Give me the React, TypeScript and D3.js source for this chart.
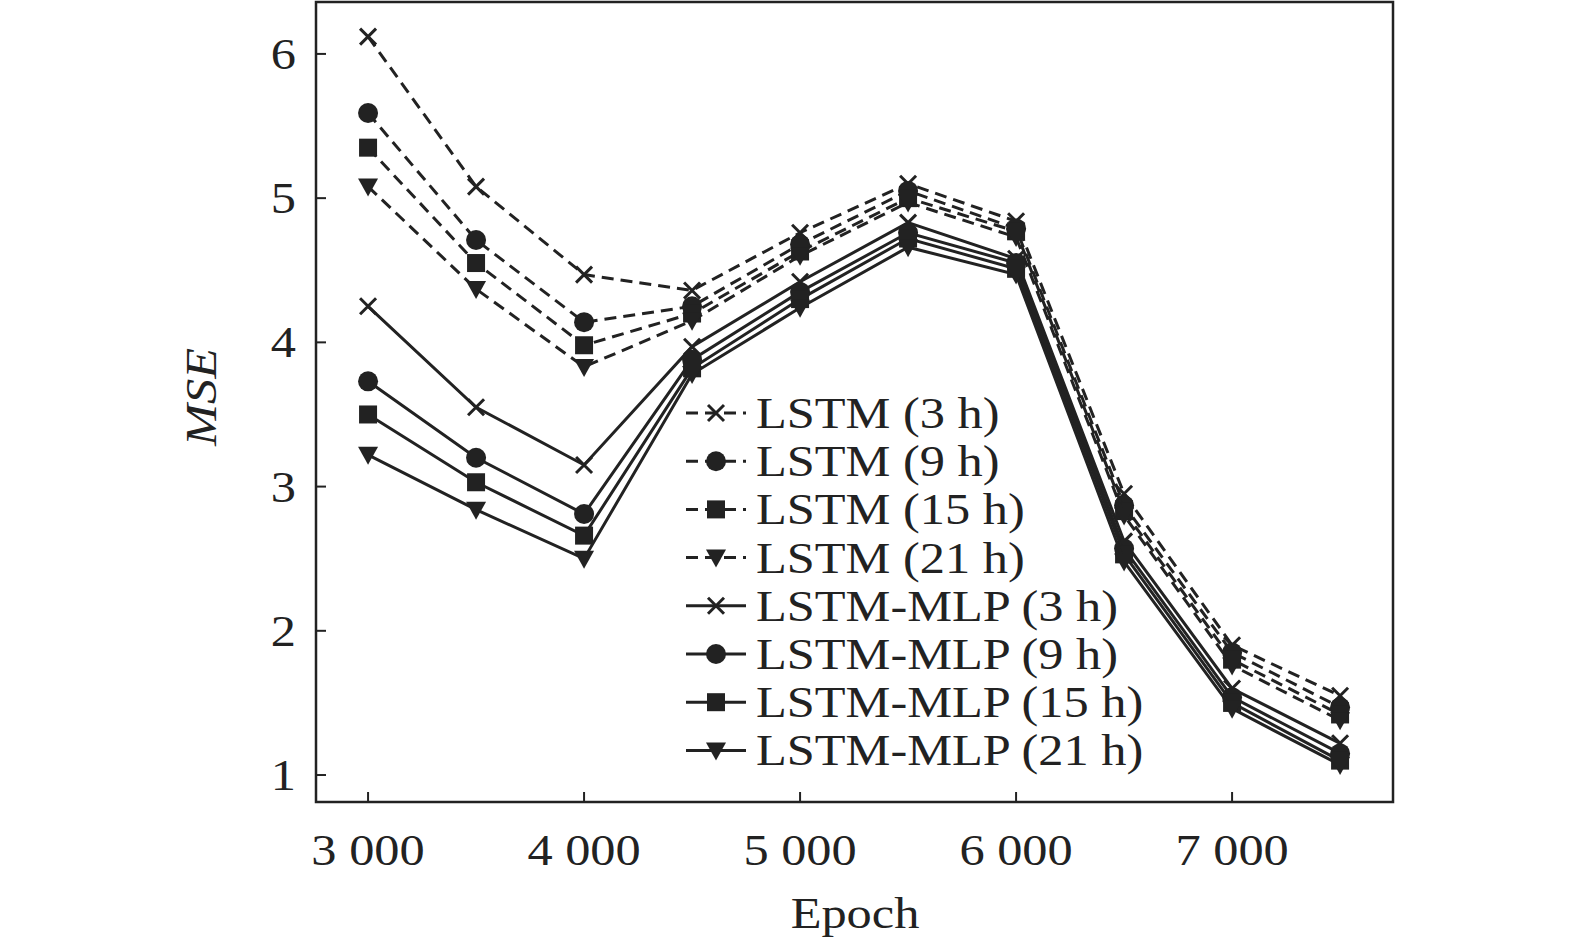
import React from "react";
import * as d3 from "d3";

const epochs = [3000, 3500, 4000, 4500, 5000, 5500, 6000, 6500, 7000, 7500];
const seriesNames = [
  "LSTM (3 h)", "LSTM (9 h)", "LSTM (15 h)", "LSTM (21 h)",
  "LSTM-MLP (3 h)", "LSTM-MLP (9 h)", "LSTM-MLP (15 h)", "LSTM-MLP (21 h)",
];
const seriesValues = [
  [6.12, 5.08, 4.47, 4.36, 4.76, 5.1, 4.84, 2.95, 1.9, 1.55],
  [5.59, 4.71, 4.14, 4.25, 4.68, 5.05, 4.79, 2.87, 1.85, 1.47],
  [5.35, 4.55, 3.98, 4.2, 4.63, 5.0, 4.77, 2.83, 1.8, 1.42],
  [5.08, 4.37, 3.83, 4.15, 4.6, 4.97, 4.73, 2.8, 1.76, 1.38],
  [4.25, 3.55, 3.15, 3.97, 4.42, 4.83, 4.58, 2.62, 1.6, 1.22],
  [3.73, 3.2, 2.81, 3.88, 4.35, 4.76, 4.55, 2.57, 1.54, 1.15],
  [3.5, 3.03, 2.66, 3.82, 4.3, 4.72, 4.51, 2.53, 1.5, 1.1],
  [3.22, 2.84, 2.5, 3.78, 4.24, 4.66, 4.47, 2.48, 1.46, 1.07],
];
const markers = ["x", "circle", "square", "tri", "x", "circle", "square", "tri"];
const xTicks = [3000, 4000, 5000, 6000, 7000];
const yTicks = [1, 2, 3, 4, 5, 6];

const L = 316, R = 1393, T = 2, B = 802;
const x = d3.scaleLinear().domain([2759, 7745]).range([L, R]);
const y = d3.scaleLinear().domain([0.813, 6.36]).range([B, T]);
const font = "'Liberation Serif', 'Times New Roman', serif";
const SX = 1.12;

// horizontally stretched text, to match the wide serif of the reference
function T2({ x: tx, y: ty, anchor = "start", children, italic }: any) {
  return (
    <text transform={`translate(${tx},${ty}) scale(${SX},1)`} textAnchor={anchor} fontSize={45} fill="#222" fontStyle={italic ? "italic" : undefined}>
      {children}
    </text>
  );
}

function Marker({ kind, cx, cy }: { kind: string; cx: number; cy: number }) {
  if (kind === "x")
    return <path d={`M${cx - 8},${cy - 8}L${cx + 8},${cy + 8}M${cx - 8},${cy + 8}L${cx + 8},${cy - 8}`} stroke="#222" strokeWidth={3} />;
  if (kind === "circle") return <circle cx={cx} cy={cy} r={10} fill="#222" />;
  if (kind === "square") return <rect x={cx - 9} y={cy - 9} width={18} height={18} fill="#222" />;
  return <path d={`M${cx - 10},${cy - 8}L${cx + 10},${cy - 8}L${cx},${cy + 10}Z`} fill="#222" />;
}

export default function App() {
  const line = d3.line<number>().x((_, i) => x(epochs[i])).y((d) => y(d));
  return (
    <svg width={1575} height={949} style={{ position: "absolute", left: 0, top: 0, background: "#fff" }} fontFamily={font}>
      <rect x={L} y={T} width={R - L} height={B - T} fill="none" stroke="#222" strokeWidth={2.5} />
      {xTicks.map((t) => (
        <g key={t}>
          <line x1={x(t)} x2={x(t)} y1={B} y2={B - 10} stroke="#222" strokeWidth={2} />
          <T2 x={x(t)} y={865} anchor="middle">{d3.format(",")(t).replace(",", " ")}</T2>
        </g>
      ))}
      {yTicks.map((t) => (
        <g key={t}>
          <line x1={L} x2={L + 10} y1={y(t)} y2={y(t)} stroke="#222" strokeWidth={2} />
          <T2 x={296} y={y(t) + 15} anchor="end">{t}</T2>
        </g>
      ))}
      <T2 x={855} y={928} anchor="middle">Epoch</T2>
      <text transform="translate(216,397) rotate(-90) scale(1.12,1)" textAnchor="middle" fontSize={45} fontStyle="italic" fill="#222">MSE</text>
      {seriesValues.map((vals, s) => (
        <g key={s}>
          <path d={line(vals) || ""} fill="none" stroke="#222" strokeWidth={3} strokeDasharray={s < 4 ? "12,7" : undefined} />
          {vals.map((v, i) => <Marker key={i} kind={markers[s]} cx={x(epochs[i])} cy={y(v)} />)}
        </g>
      ))}
      {seriesNames.map((n, s) => {
        const ly = 413 + s * 48.2;
        return (
          <g key={n}>
            <line x1={686} x2={746} y1={ly} y2={ly} stroke="#222" strokeWidth={3} strokeDasharray={s < 4 ? "12,7" : undefined} />
            <Marker kind={markers[s]} cx={716} cy={ly} />
            <T2 x={756} y={ly + 15}>{n}</T2>
          </g>
        );
      })}
    </svg>
  );
}
